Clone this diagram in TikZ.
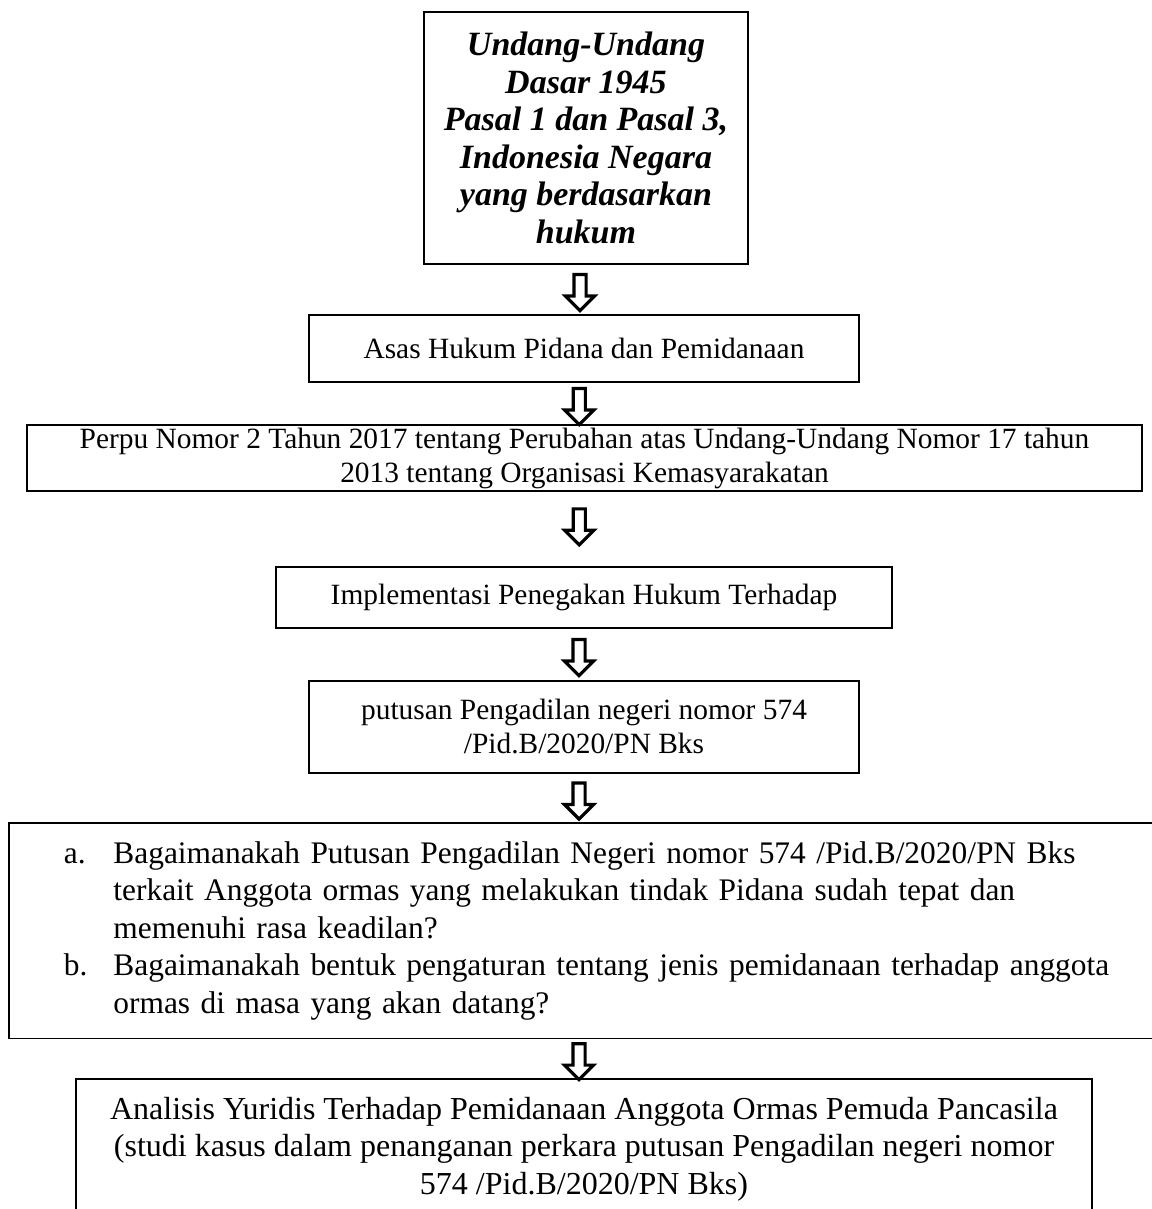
\documentclass[tikz,border=0pt]{standalone}
\usepackage{fontspec}
\setmainfont{Liberation Serif}
\usetikzlibrary{shapes.arrows}
\newcommand{\hurufkecil}{\fontsize{29.4}{34}\selectfont}
\newcommand{\hurufbesar}{\fontsize{32}{37.5}\selectfont}
\tikzset{
  kotak/.style={draw, line width=1.8pt, align=center, inner sep=0pt},
  panah/.style={xshift=-5pt, single arrow, draw, line width=3.2pt, rotate=-90, minimum height=36pt,
    single arrow head extend=8.5pt, inner sep=4.5pt, fill=white}
}
\begin{document}
\begin{tikzpicture}[x=1pt,y=-1pt]
    \useasboundingbox (0,0) rectangle (1151,1209);
    \node[kotak, minimum width=324pt, minimum height=252pt, font=\fontsize{34}{37.5}\selectfont\bfseries\itshape] (uud) at (586,138)
        {Undang-Undang\\Dasar 1945\\Pasal 1 dan Pasal 3,\\Indonesia Negara\\yang berdasarkan\\hukum};
    \node[kotak, minimum width=550pt, minimum height=67pt, font=\hurufkecil] (asas) at (584,348.5)
        {Asas Hukum Pidana dan Pemidanaan};
    \node[kotak, minimum width=1115pt, minimum height=66pt, font=\hurufkecil] (perpu) at (584.5,458)
        {Perpu Nomor 2 Tahun 2017 tentang Perubahan atas Undang-Undang Nomor 17 tahun\\2013 tentang Organisasi Kemasyarakatan};
    \node[kotak, minimum width=616pt, minimum height=61pt, font=\hurufkecil] (implementasi) at (584,597.5)
        {Implementasi Penegakan Hukum Terhadap};
    \node[kotak, minimum width=550pt, minimum height=92pt, font=\hurufkecil] (putusan) at (584,727)
        {putusan Pengadilan negeri nomor 574\\/Pid.B/2020/PN Bks};
    % rumusan masalah, kotak melewati tepi kanan
    \node[kotak, anchor=north west, text width=1100pt, inner xsep=55pt, inner ysep=14pt, align=left,
          font=\fontsize{31.4}{37.5}\selectfont] (rumusan) at (8,822)
        {\begin{tabular}{@{}l@{\hspace{26pt}}l@{}}
        a. & Bagaimanakah Putusan Pengadilan Negeri nomor 574 /Pid.B/2020/PN Bks\\
           & terkait Anggota ormas yang melakukan tindak Pidana sudah tepat dan\\
           & memenuhi rasa keadilan?\\
        b. & Bagaimanakah bentuk pengaturan tentang jenis pemidanaan terhadap anggota\\
           & ormas di masa yang akan datang?
        \end{tabular}};
    \node[kotak, anchor=north, minimum width=1016pt, minimum height=140pt, font=\hurufbesar] (analisis) at (584,1078)
        {Analisis Yuridis Terhadap Pemidanaan Anggota Ormas Pemuda Pancasila\\(studi kasus dalam penanganan perkara putusan Pengadilan negeri nomor\\574 /Pid.B/2020/PN Bks)};
    \path (uud.south) -- (asas.north) node[midway, panah] (p1) {};
    \path (asas.south) -- (perpu.north) node[midway, panah] (p2) {};
    \path (perpu.south) -- (implementasi.north) node[pos=0.43, panah] (p3) {};
    \path (implementasi.south) -- (putusan.north) node[midway, panah] (p4) {};
    \path (putusan.south) -- (rumusan.north -| putusan.south) node[midway, panah] (p5) {};
    \path (rumusan.south -| analisis.north) -- (analisis.north) node[midway, panah] (p6) {};
\end{tikzpicture}
\end{document}
